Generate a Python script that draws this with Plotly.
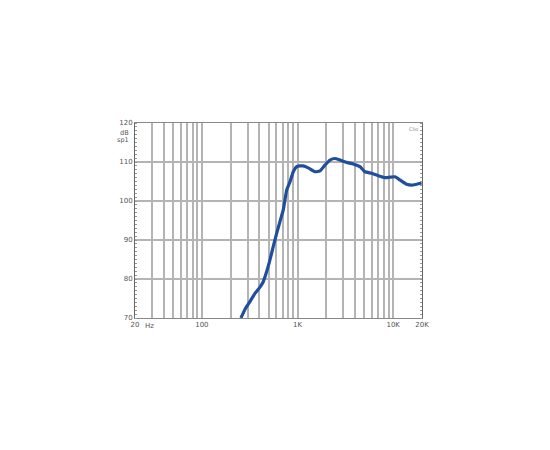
import plotly.graph_objects as go

freq_hz = [256, 282, 318, 359, 405, 438, 476, 515, 557, 605, 655, 709, 770, 833, 902, 979,
           1060, 1147, 1294, 1520, 1715, 1934, 2180, 2460, 2775, 3260, 3820, 4490, 5060,
           5950, 6970, 8190, 9240, 10420, 11750, 13810, 16180, 19810]
spl_db = [70.0, 72.2, 74.2, 76.3, 77.9, 79.3, 81.9, 84.9, 88.3, 91.7, 94.7, 97.7, 102.8,
          104.9, 107.5, 108.8, 109.0, 109.0, 108.5, 107.5, 107.7, 109.2, 110.5, 110.9,
          110.5, 109.9, 109.5, 108.8, 107.5, 107.1, 106.5, 106.0, 106.1, 106.2, 105.4,
          104.3, 104.1, 104.6]

x_tick_vals = [20, 100, 1000, 10000, 20000]
x_tick_text = ["20", "100", "1K", "10K", "20K"]
x_grid_vals = [30, 40, 50, 60, 70, 80, 90, 100, 200, 300, 400, 500, 600, 700, 800, 900,
               1000, 2000, 3000, 4000, 5000, 6000, 7000, 8000, 9000, 10000]
y_tick_vals = [70, 80, 90, 100, 110, 120]

grid_col = "#b4b4b4"
font_col = "#555555"

fig = go.Figure()
fig.add_trace(go.Scatter(
    x=freq_hz, y=spl_db, mode="lines",
    line=dict(color="#1f4f9c", width=3.2, shape="spline", smoothing=0.4),
    hoverinfo="skip", showlegend=False,
))

fig.update_layout(
    width=535, height=435,
    margin=dict(l=127, r=121, t=115, b=125),
    paper_bgcolor="white", plot_bgcolor="white",
    font=dict(family="DejaVu Sans", size=7, color=font_col),
    xaxis=dict(
        type="log", range=[1.30103, 4.30103],
        tickvals=x_tick_vals, ticktext=x_tick_text,
        showgrid=False, ticks="", tickfont=dict(size=7, color=font_col),
        showline=True, linecolor="#888888", linewidth=1, mirror=True,
        minor=dict(tickvals=x_grid_vals, showgrid=True, gridcolor=grid_col,
                   gridwidth=2, ticks=""),
        zeroline=False, fixedrange=True,
    ),
    yaxis=dict(
        range=[70, 120], tickvals=y_tick_vals,
        showgrid=True, gridcolor=grid_col, gridwidth=2,
        ticks="", tickfont=dict(size=7, color=font_col),
        showline=True, linecolor="#666666", linewidth=1, mirror="ticks",
        minor=dict(dtick=1, ticks="inside", ticklen=2, tickcolor="#999999",
                   showgrid=False),
        zeroline=False, fixedrange=True,
    ),
)

fig.add_annotation(x=0.0, xref="paper", y=1.0, yref="paper", text="dB",
                   showarrow=False, xanchor="right", yanchor="middle", xshift=-4,
                   yshift=-10, font=dict(size=6.5, color=font_col))
fig.add_annotation(x=0.0, xref="paper", y=1.0, yref="paper", text="sp1",
                   showarrow=False, xanchor="right", yanchor="middle", xshift=-4,
                   yshift=-17, font=dict(size=6.5, color=font_col))
fig.add_annotation(x=0.0, xref="paper", y=0.0, yref="paper", text="Hz",
                   showarrow=False, xanchor="left", yanchor="top", xshift=8,
                   yshift=-2, font=dict(size=7, color=font_col))
fig.add_annotation(x=1.0, xref="paper", y=1.0, yref="paper", text="Clio",
                   showarrow=False, xanchor="right", yanchor="top", xshift=-2,
                   yshift=-1, font=dict(size=5, color="#888888"))

fig.write_html("out.html")
